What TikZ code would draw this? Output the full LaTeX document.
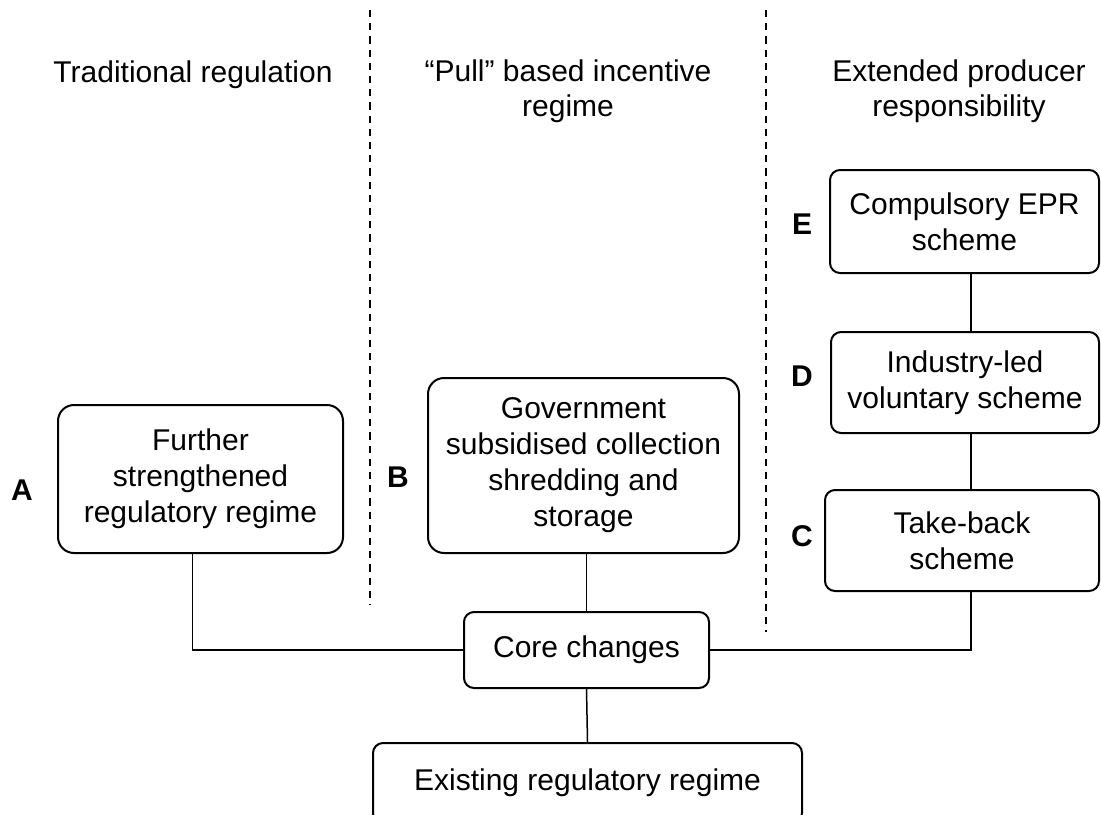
\documentclass[tikz,border=0pt]{standalone}
\usepackage{fontspec}
\setmainfont{Liberation Sans}
\begin{document}
\begin{tikzpicture}[x=0.5pt,y=-0.5pt,
  box/.style={draw, line width=1pt, rounded corners=5pt, align=center, inner sep=0pt, font=\fontsize{15}{18}\selectfont},
  bigbox/.style={box, rounded corners=8pt},
  lab/.style={font=\fontsize{15}{17}\selectfont\bfseries, inner sep=0pt},
  ttl/.style={align=center, inner sep=0pt, font=\fontsize{15}{17.5}\selectfont},
  conn/.style={line width=0.75pt},
  sep/.style={line width=1.4pt, dash pattern=on 3.6pt off 3pt}]
\useasboundingbox (0,0) rectangle (1101,814);
\clip (0,0) rectangle (1101,814);

% column titles
\node[ttl, anchor=base] (t1) at (193,82) {Traditional regulation};
\node[ttl] (t2) at (568,91) {``Pull'' based incentive\\regime};
\node[ttl] (t3) at (959,91) {Extended producer\\responsibility};

% separators
\coordinate (s1a) at (370,10);
\coordinate (s1b) at (370,605);
\coordinate (s2a) at (766,10);
\coordinate (s2b) at (766,632);
\draw[sep] (s1a) -- (s1b);
\draw[sep] (s2a) -- (s2b);

% boxes
\node[bigbox, minimum width=142.5pt, minimum height=74pt] (A) at (200.5,479) {Further\\strengthened\\regulatory regime};
\node[bigbox, minimum width=155.5pt, minimum height=87.5pt] (B) at (583.5,465.5) {Government\\subsidised collection\\shredding and\\storage};
\node[box, minimum width=134.5pt, minimum height=51.5pt] (E) at (964.5,221.5) {Compulsory EPR\\scheme};
\node[box, minimum width=134pt, minimum height=50.5pt] (D) at (965,382.5) {Industry-led\\voluntary scheme};
\node[box, minimum width=137pt, minimum height=50.5pt] (C) at (962,540.5) {Take-back\\scheme};
\node[box, minimum width=122.5pt, minimum height=38pt] (core) at (586.5,650) {Core changes};
\node[box, minimum width=214.5pt, minimum height=40pt] (exist) at (587.5,783) {Existing regulatory regime};

% letters
\node[lab] (la) at (22,490) {A};
\node[lab] (lb) at (398,477) {B};
\node[lab] (lc) at (802,536) {C};
\node[lab] (ld) at (802,376) {D};
\node[lab] (le) at (802,224) {E};

% connectors
\draw[conn] ([xshift=-4pt]A.south) |- (core.west);
\draw[conn] (core.east) -| ([xshift=4.5pt]C.south);
\draw[conn] (B.south -| core.north) -- (core.north);
\draw[conn] (core.south) -- (exist.north);
\draw[conn] ([xshift=3.25pt]E.south) -- ([xshift=3.25pt]E.south |- D.north);
\draw[conn] ([xshift=3pt]D.south) -- ([xshift=3pt]D.south |- C.north);
\end{tikzpicture}
\end{document}
